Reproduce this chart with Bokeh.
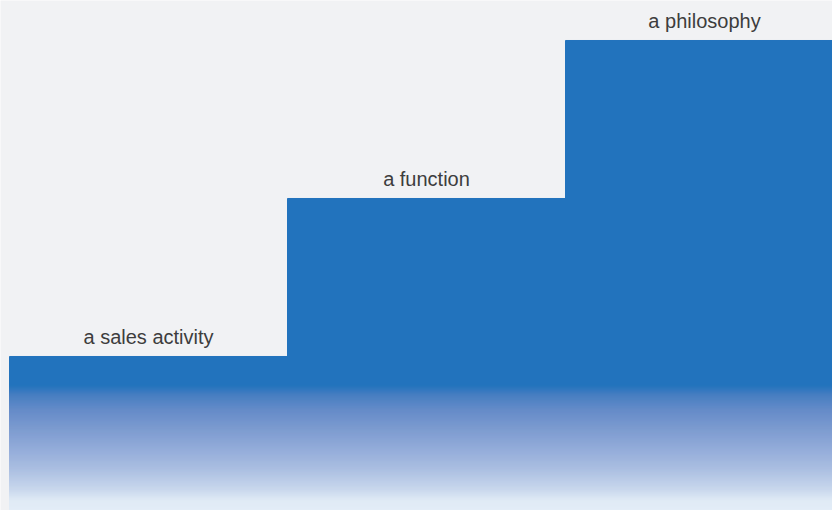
from bokeh.plotting import figure
from bokeh.models import ColumnDataSource, Range1d
from bokeh.core.properties import value
from bokeh.embed import file_html
from bokeh.resources import INLINE

# ---- data ----
categories = ["a sales activity", "a function", "a philosophy"]
levels = [1, 2, 3]
positions = [0, 1, 2]

# ---- style ----
BLUE = "#2273bd"
BG = "#f1f2f4"
# gradient stops: (value on y-axis, rgb)
grad_stops = [
    (0.816, (34, 115, 189)),
    (0.753, (77, 128, 194)),
    (0.658, (111, 143, 202)),
    (0.532, (139, 162, 211)),
    (0.405, (165, 181, 222)),
    (0.278, (192, 203, 231)),
    (0.152, (226, 231, 244)),
    (0.089, (250, 251, 253)),
    (0.025, (255, 255, 255)),
]

PX = 278.0  # pixels per category
p = figure(width=832, height=510, output_backend="svg", toolbar_location=None,
           x_range=Range1d(-0.5 - 9 / PX, -0.5 + 823 / PX),
           y_range=Range1d(0.0253, 0.0253 + 510 / 158),
           min_border_left=0, min_border_right=0, min_border_top=0, min_border_bottom=0)
p.background_fill_color = BG
p.border_fill_color = BG
p.outline_line_color = None
p.xaxis.visible = False
p.yaxis.visible = False
p.xgrid.visible = False
p.ygrid.visible = False

src = ColumnDataSource(dict(x=positions, top=levels, label=categories))
p.vbar(x="x", top="top", bottom=-0.2, width=1.0, source=src, fill_color=BLUE,
       line_color=BLUE, line_width=1)

# gradient overlay built from stops (thin horizontal strips)
step = 1 / 158
lefts, rights, tops, bottoms, colors = [], [], [], [], []
y = grad_stops[0][0]
ymin = -0.1
while y > ymin:
    yb = y - step
    mid = y - step / 2
    if mid >= grad_stops[0][0]:
        c = grad_stops[0][1]
    elif mid <= grad_stops[-1][0]:
        c = grad_stops[-1][1]
    else:
        for (v0, c0), (v1, c1) in zip(grad_stops[:-1], grad_stops[1:]):
            if v0 >= mid >= v1:
                t = (v0 - mid) / (v0 - v1)
                c = tuple(int(round(a + (b - a) * t)) for a, b in zip(c0, c1))
                break
    lefts.append(-0.5 - 0.5 / PX)
    rights.append(2.6)
    tops.append(y + step * 0.3)
    bottoms.append(yb)
    colors.append("#%02x%02x%02x" % c)
    y = yb
p.quad(left=lefts, right=rights, top=tops, bottom=bottoms, fill_color=colors, line_color=None)

p.text(x="x", y="top", text="label", source=src, text_align="center", text_baseline="alphabetic",
       y_offset=-19, text_font=value("Liberation Sans"), text_font_size="20px", text_color="#3d3d3d")

open("out.html", "w").write(file_html(p, INLINE))
